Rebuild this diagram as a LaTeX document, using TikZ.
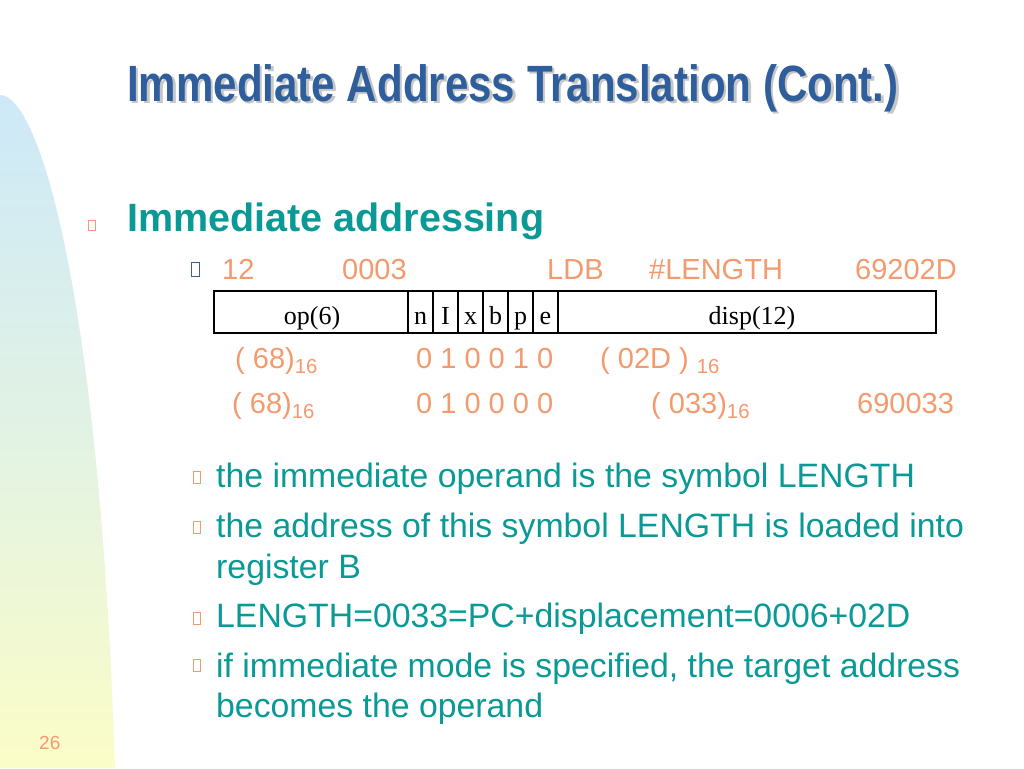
\documentclass[tikz,border=0pt]{standalone}
\usepackage{fontspec}
\setmainfont{Liberation Sans}
\newfontfamily\tnr{Liberation Serif}
\definecolor{teal1}{HTML}{0A9A96}
\definecolor{sal}{HTML}{F39A6E}
\definecolor{tblue}{HTML}{2F5E9C}
\definecolor{bblue}{HTML}{3A5F9A}
\definecolor{bgtop}{HTML}{CDE9F8}
\definecolor{bgmid}{HTML}{E2F2E4}
\definecolor{bgbot}{HTML}{FBFDC8}
\begin{document}
\begin{tikzpicture}[x=1pt,y=-1pt,
  t/.style={anchor=base west,inner sep=0pt},
  body/.style={t,text=teal1,font=\fontsize{33.8}{33.8}\selectfont},
  org/.style={t,text=sal,font=\fontsize{29}{29}\selectfont},
  fld/.style={anchor=base,inner sep=0pt,font=\tnr\fontsize{26}{26}\selectfont}]
\useasboundingbox (0,0) rectangle (1024,768);
\fill[white] (0,0) rectangle (1024,768);
\shade[top color=bgtop,bottom color=bgbot,middle color=bgmid]
  (0,95) .. controls (40,95) and (100,300) .. (115,768) -- (0,768) -- cycle;
% title
\node[t,text=gray!45,font=\bfseries\fontsize{51}{51}\selectfont] at (129.5,103.5) {\scalebox{0.825}[1]{Immediate Address Translation (Cont.)}};
\node[t,text=tblue,font=\bfseries\fontsize{51}{51}\selectfont] (title) at (127,101) {\scalebox{0.825}[1]{Immediate Address Translation (Cont.)}};
% bullets
\draw[sal,line width=0.8] (88,220) rectangle (95,230);
\node[t,text=teal1,font=\bfseries\fontsize{39.5}{39.5}\selectfont] (h) at (127,231) {Immediate addressing};
\draw[bblue,line width=1] (191,262) rectangle (199,276);
\node[org] (a1) at (222,279) {12};
\node[org] (a2) at (342,279) {0003};
\node[org] (a3) at (547,279) {LDB};
\node[org] (a4) at (649,279) {\#LENGTH};
\node[org] (a5) at (855,279) {69202D};
% format box
\draw[line width=1.6] (214,291) rectangle (936,333);
\foreach \x in {408,433,458,483,508,533,558} \draw[line width=1.2] (\x,291) -- (\x,333);
\node[fld] (op) at (312,324) {op(6)};
\foreach \c/\x in {n/420.5,I/445.5,x/470.5,b/495.5,p/520.5,e/545.5} \node[fld] at (\x,324) {\c};
\node[fld] (disp) at (752,324) {disp(12)};
% rows
\node[org] (r1) at (235,368) {( 68)\textsubscript{16}};
\node[org] (r2) at (416,368) {0 1 0 0 1 0};
\node[org] (r3) at (600,368) {( 02D ) \textsubscript{16}};
\node[org] (s1) at (232,413) {( 68)\textsubscript{16}};
\node[org] (s2) at (416,413) {0 1 0 0 0 0};
\node[org] (s3) at (651,413) {( 033)\textsubscript{16}};
\node[org] (s4) at (857,413) {690033};
% lower bullets
\foreach \y in {471,521,612,659} \draw[sal,line width=0.8] (193,\y) rectangle (200,\y+12);
\node[body] (b1) at (216,487) {the immediate operand is the symbol LENGTH};
\node[body] (b2) at (216,537) {the address of this symbol LENGTH is loaded into};
\node[body] (b3) at (216,578) {register B};
\node[body] (b4) at (216,627) {LENGTH=0033=PC+displacement=0006+02D};
\node[body] (b5) at (216,677) {if immediate mode is specified, the target address};
\node[body] (b6) at (216,717) {becomes the operand};
\node[t,text=sal,font=\fontsize{19}{19}\selectfont] (pg) at (39,749) {26};
\end{tikzpicture}
\end{document}
